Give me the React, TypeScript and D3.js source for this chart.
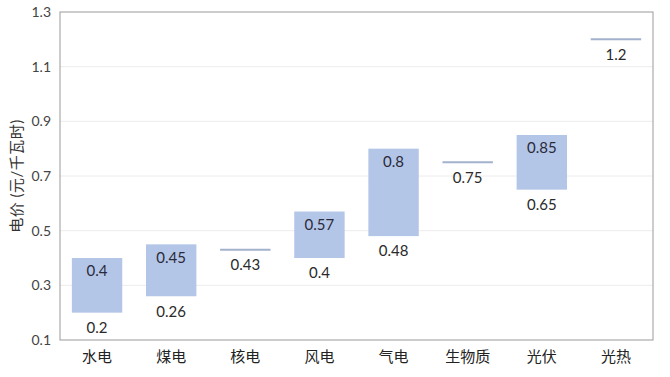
import React from "react";
import * as d3 from "d3";

const categories = ["水电", "煤电", "核电", "风电", "气电", "生物质", "光伏", "光热"];
const lowValues = [0.2, 0.26, 0.43, 0.4, 0.48, 0.75, 0.65, 1.2];
const highValues = [0.4, 0.45, 0.43, 0.57, 0.8, 0.75, 0.85, 1.2];
const lowLabels = ["0.2", "0.26", "0.43", "0.4", "0.48", "0.75", "0.65", "1.2"];
const highLabels = ["0.4", "0.45", "", "0.57", "0.8", "", "0.85", ""];
const yTicks = [0.1, 0.3, 0.5, 0.7, 0.9, 1.1, 1.3];
const yTitle = "电价 (元/千瓦时)";

const W = 670;
const H = 377;
const margin = { left: 60, right: 17, top: 12, bottom: 37 };
const FONT = "'Lato', 'Noto Sans CJK SC', sans-serif";

export default function App() {
  const x = d3
    .scaleBand<string>()
    .domain(categories)
    .range([margin.left, W - margin.right])
    .paddingInner(0.32)
    .paddingOuter(0.16);
  const y = d3.scaleLinear().domain([0.1, 1.3]).range([H - margin.bottom, margin.top]);
  const bw = x.bandwidth();

  return (
    <svg
      width={W}
      height={H}
      style={{ position: "absolute", left: 0, top: 0, background: "#fff" }}
      fontFamily={FONT}
    >
      {yTicks.map((t) => (
        <g key={t}>
          {t > 0.1 && t < 1.3 && (
            <line x1={margin.left} x2={W - margin.right} y1={y(t)} y2={y(t)} stroke="#ececec" strokeWidth={1} />
          )}
          <text x={margin.left - 9} y={y(t)} dy="0.35em" textAnchor="end" fontSize={14} fill="#444">
            {t.toFixed(1)}
          </text>
        </g>
      ))}
      <rect
        x={margin.left}
        y={margin.top}
        width={W - margin.right - margin.left}
        height={H - margin.bottom - margin.top}
        fill="none"
        stroke="#9a9a9a"
        strokeWidth={1}
      />
      {categories.map((c, i) => {
        const x0 = x(c)!;
        const cx = x0 + bw / 2;
        const lo = lowValues[i];
        const hi = highValues[i];
        const isLine = lo === hi;
        return (
          <g key={c}>
            {isLine ? (
              <line x1={x0} x2={x0 + bw} y1={y(hi)} y2={y(hi)} stroke="#a3b2cc" strokeWidth={2} />
            ) : (
              <rect x={x0} y={y(hi)} width={bw} height={y(lo) - y(hi)} fill="#b4c6e7" />
            )}
            {highLabels[i] && (
              <text x={cx} y={y(hi) + 13} dy="0.35em" textAnchor="middle" fontSize={15} fill="#2a2a3a">
                {highLabels[i]}
              </text>
            )}
            <text x={cx} y={y(lo) + 15} dy="0.35em" textAnchor="middle" fontSize={15} fill="#2a2a2a">
              {lowLabels[i]}
            </text>
            <text x={cx} y={H - margin.bottom + 17} dy="0.35em" textAnchor="middle" fontSize={15} fill="#222">
              {c}
            </text>
          </g>
        );
      })}
      <text
        transform={`translate(17, ${(margin.top + H - margin.bottom) / 2}) rotate(-90)`}
        textAnchor="middle"
        dy="0.35em"
        fontSize={15}
        letterSpacing={0.5}
        fill="#333"
      >
        {yTitle}
      </text>
    </svg>
  );
}
